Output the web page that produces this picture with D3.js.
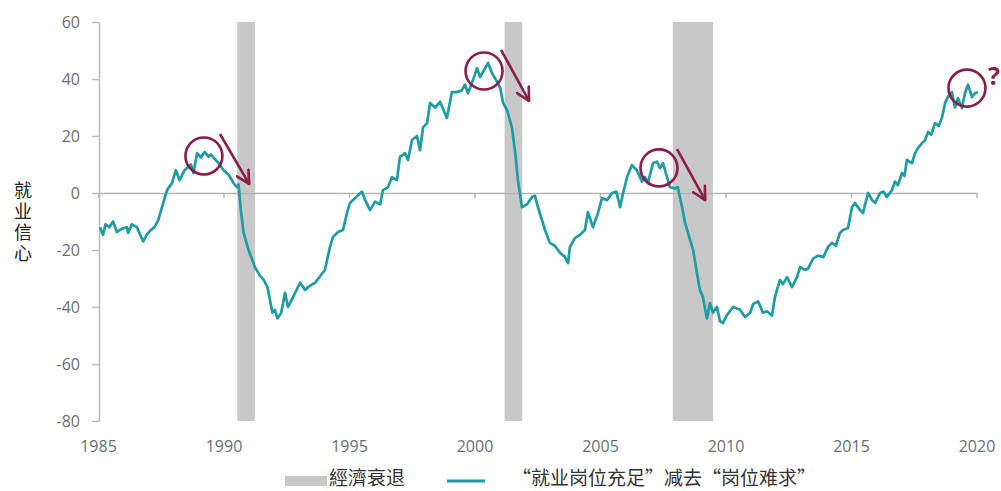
<!DOCTYPE html>
<html>
<head>
<meta charset="utf-8">
<script src="https://cdn.jsdelivr.net/npm/d3@7"></script>
<style>
  body { margin: 0; background: #fff; }
  svg { display: block; }
  .tick text { font-family: "Open Sans", sans-serif; fill: #6e6e6e; }
  .cjk { font-family: "Noto Sans CJK SC", sans-serif; }
</style>
</head>
<body>
<script>
// job confidence: "jobs plentiful" minus "jobs hard to get"
const series = [
  [1985.08, -12], [1985.2, -14.7], [1985.3, -11], [1985.45, -12], [1985.6, -10],
  [1985.75, -13.7], [1985.95, -12.5], [1986.15, -12], [1986.2, -14], [1986.35, -11],
  [1986.55, -12], [1986.7, -15], [1986.8, -17], [1986.95, -14.5], [1987.1, -13],
  [1987.25, -12], [1987.4, -9.5], [1987.6, -3.5], [1987.75, 1], [1987.95, 3.5],
  [1988.1, 8], [1988.25, 4.5], [1988.45, 8], [1988.7, 10], [1988.8, 7],
  [1988.95, 14], [1989.1, 12.5], [1989.25, 14.4], [1989.4, 12.8], [1989.5, 13.5],
  [1989.65, 12], [1989.8, 10.5], [1990.0, 8], [1990.2, 6.5], [1990.3, 5],
  [1990.4, 3.5], [1990.55, 2], [1990.6, 3], [1990.68, -5], [1990.8, -14],
  [1991.0, -20], [1991.25, -26], [1991.45, -29], [1991.6, -30.5], [1991.75, -33],
  [1991.95, -42], [1992.05, -41], [1992.15, -44], [1992.3, -42], [1992.45, -35],
  [1992.57, -40], [1992.77, -36.5], [1993.05, -31.5], [1993.25, -34], [1993.45, -32.5],
  [1993.65, -31.5], [1994.04, -27], [1994.24, -19], [1994.36, -15.5], [1994.56, -13.7],
  [1994.76, -13], [1994.92, -7], [1995.04, -3.5], [1995.24, -1.8], [1995.52, 0.5],
  [1995.64, -2.5], [1995.84, -6], [1996.04, -3], [1996.24, -4], [1996.35, 1],
  [1996.55, 2], [1996.71, 5.6], [1996.91, 4.5], [1997.03, 12.7], [1997.23, 14],
  [1997.35, 11.6], [1997.51, 18.6], [1997.71, 20], [1997.83, 15], [1997.95, 23],
  [1998.11, 24.5], [1998.23, 31.6], [1998.43, 30], [1998.63, 32], [1998.9, 26.3],
  [1999.1, 35.4], [1999.3, 35.4], [1999.5, 36], [1999.62, 38], [1999.74, 35],
  [1999.94, 39.6], [2000.1, 43.8], [2000.22, 40.7], [2000.34, 42.5], [2000.54, 45.6],
  [2000.7, 42], [2000.9, 39], [2001.02, 37], [2001.14, 31.6], [2001.3, 29],
  [2001.49, 23], [2001.61, 15], [2001.73, 4.5], [2001.89, -5], [2002.09, -4],
  [2002.29, -1.4], [2002.41, -1], [2002.53, -5], [2002.81, -13], [2003.0, -17.5],
  [2003.2, -18.5], [2003.41, -21], [2003.6, -22.4], [2003.73, -24.6], [2003.8, -19],
  [2004.0, -15.8], [2004.2, -14.7], [2004.4, -13], [2004.52, -6.7], [2004.72, -12],
  [2004.92, -7], [2005.08, -1.8], [2005.28, -2.5], [2005.48, 0], [2005.65, 0.5],
  [2005.8, -5], [2005.92, 0], [2006.08, 5.6], [2006.27, 9.8], [2006.47, 8],
  [2006.67, 4], [2006.79, 5.6], [2006.91, 3.5], [2007.11, 10.5], [2007.27, 11],
  [2007.39, 8.7], [2007.51, 10.5], [2007.67, 5.6], [2007.79, 2], [2007.99, 1.6],
  [2008.1, 2], [2008.27, -5], [2008.39, -10.5], [2008.59, -16.5], [2008.71, -20],
  [2008.86, -28], [2008.98, -34], [2009.1, -36.5], [2009.26, -44], [2009.38, -38.6],
  [2009.5, -42], [2009.66, -40], [2009.78, -45], [2009.9, -45.6], [2010.06, -42.8],
  [2010.3, -40], [2010.58, -41], [2010.78, -43.5], [2010.98, -42], [2011.1, -39],
  [2011.3, -38], [2011.49, -42], [2011.65, -41.5], [2011.85, -43], [2011.97, -36.5],
  [2012.17, -30.5], [2012.29, -32], [2012.45, -29.5], [2012.65, -33], [2012.85, -29.5],
  [2012.97, -26], [2013.17, -27], [2013.29, -26.5], [2013.49, -23], [2013.69, -22],
  [2013.9, -22.5], [2014.08, -19], [2014.24, -17.5], [2014.4, -18.5], [2014.56, -14],
  [2014.68, -13], [2014.88, -12.3], [2015.04, -5], [2015.16, -3.5], [2015.36, -6],
  [2015.48, -7], [2015.68, 0], [2015.84, -2.5], [2015.96, -3.5], [2016.16, 0],
  [2016.3, 0.5], [2016.43, -1.4], [2016.63, 1], [2016.75, 4], [2016.87, 2.8],
  [2017.03, 7], [2017.13, 6], [2017.23, 11.6], [2017.43, 10.5], [2017.55, 14],
  [2017.67, 15.8], [2017.83, 17.5], [2017.95, 18.5], [2018.07, 21.4], [2018.2, 20.5],
  [2018.35, 24.5], [2018.5, 23.5], [2018.63, 26.7], [2018.75, 31.6], [2018.86, 33.7],
  [2019.02, 35.4], [2019.14, 30], [2019.26, 33.3], [2019.42, 29.8], [2019.54, 35],
  [2019.66, 38], [2019.82, 33.7], [2019.94, 35], [2020.06, 35.4]
];

const recessions = [[1990.55, 1991.25], [2001.2, 2001.9], [2007.9, 2009.5]];
const xTicks = [1985, 1990, 1995, 2000, 2005, 2010, 2015, 2020];
const yTicks = [60, 40, 20, 0, -20, -40, -60, -80];

// annotations, in data units
const peakCircles = [[1989.22, 13], [2000.38, 42.8], [2007.35, 8.8], [2019.62, 36.8]];
const dropArrows = [
  [[1989.86, 20.7], [1991.02, 3.2]],
  [[2001.06, 50.2], [2002.17, 32.3]],
  [[2008.07, 15.4], [2009.19, -2.5]]
];
const questionMark = [2020.7, 37.9];

const yLabel = "就业信心";
const legendItems = ["經濟衰退", "“就业岗位充足”减去“岗位难求”"];

const width = 1001;
const height = 491;
const accent = "#8c1d4b";
const teal = "#1d9ca3";

const x = d3.scaleLinear().domain([1985, 2020]).range([98, 976.5]);
const y = d3.scaleLinear().domain([-80, 60]).range([421, 22]);

const svg = d3.select("body")
  .append("svg")
  .attr("width", width)
  .attr("height", height);

svg.append("defs")
  .append("marker")
  .attr("id", "head")
  .attr("viewBox", "0 0 12 12")
  .attr("refX", 10.5)
  .attr("refY", 6)
  .attr("markerUnits", "userSpaceOnUse")
  .attr("markerWidth", 16)
  .attr("markerHeight", 16)
  .attr("orient", "auto")
  .append("path")
  .attr("d", "M1,1 L10.5,6 L1,11")
  .attr("fill", "none")
  .attr("stroke", accent)
  .attr("stroke-width", 2)
  .attr("stroke-linecap", "round")
  .attr("stroke-linejoin", "round");

// recession bands
svg.append("g")
  .selectAll("rect")
  .data(recessions)
  .join("rect")
  .attr("x", d => x(d[0]))
  .attr("width", d => x(d[1]) - x(d[0]))
  .attr("y", y(60))
  .attr("height", y(-80) - y(60))
  .attr("fill", "#c8c8c8");

// y axis (plain hyphen minus like the original)
const yAxis = svg.append("g")
  .attr("transform", `translate(${x(1985) + 1},0)`)
  .call(d3.axisLeft(y).tickValues(yTicks).tickFormat(d => String(d))
    .tickSize(7).tickPadding(12).tickSizeOuter(0));
yAxis.select(".domain").attr("stroke", "#bdbdbd").attr("stroke-width", 1.5);
yAxis.selectAll(".tick line").attr("stroke", "#bdbdbd").attr("stroke-width", 1.5);
yAxis.selectAll(".tick text").style("font-size", "16px");

// zero line with year ticks
const zeroAxis = svg.append("g")
  .attr("transform", `translate(0,${y(0)})`)
  .call(d3.axisBottom(x).tickValues(xTicks).tickFormat("").tickSize(5).tickSizeOuter(0));
zeroAxis.select(".domain").attr("stroke", "#b5b5b5").attr("stroke-width", 1.5);
zeroAxis.selectAll(".tick line").attr("stroke", "#b5b5b5").attr("stroke-width", 1.5);

// year labels
const xAxis = svg.append("g")
  .attr("transform", `translate(0,${y(-80)})`)
  .call(d3.axisBottom(x).tickValues(xTicks).tickFormat(d3.format("d")).tickSize(0).tickPadding(20));
xAxis.select(".domain").remove();
xAxis.selectAll(".tick text").style("font-size", "16px");

// series line
svg.append("path")
  .datum(series)
  .attr("fill", "none")
  .attr("stroke", teal)
  .attr("stroke-width", 2.7)
  .attr("stroke-linejoin", "round")
  .attr("d", d3.line().x(d => x(d[0])).y(d => y(d[1])));

// annotations
svg.append("g")
  .selectAll("circle")
  .data(peakCircles)
  .join("circle")
  .attr("cx", d => x(d[0]))
  .attr("cy", d => y(d[1]))
  .attr("r", 18.5)
  .attr("fill", "none")
  .attr("stroke", accent)
  .attr("stroke-width", 2.6);

svg.append("g")
  .selectAll("line")
  .data(dropArrows)
  .join("line")
  .attr("x1", d => x(d[0][0]))
  .attr("y1", d => y(d[0][1]))
  .attr("x2", d => x(d[1][0]))
  .attr("y2", d => y(d[1][1]))
  .attr("stroke", accent)
  .attr("stroke-width", 2.6)
  .attr("marker-end", "url(#head)");

svg.append("text")
  .attr("x", x(questionMark[0]))
  .attr("y", y(questionMark[1]))
  .attr("text-anchor", "middle")
  .attr("font-family", "Open Sans, sans-serif")
  .attr("font-weight", "bold")
  .attr("font-size", 25)
  .attr("fill", accent)
  .text("?");

// vertical y label
svg.append("text")
  .attr("class", "cjk")
  .attr("x", 23)
  .attr("y", 181)
  .attr("font-size", 18)
  .attr("fill", "#222")
  .style("writing-mode", "vertical-rl")
  .style("text-orientation", "upright")
  .style("letter-spacing", "3px")
  .text(yLabel);

// legend
const legend = svg.append("g");
legend.append("rect")
  .attr("x", 285).attr("y", 476).attr("width", 42).attr("height", 10)
  .attr("fill", "#c8c8c8");
legend.append("text")
  .attr("class", "cjk")
  .attr("x", 329).attr("y", 485)
  .attr("font-size", 19)
  .attr("fill", "#333")
  .text(legendItems[0]);
legend.append("line")
  .attr("x1", 447).attr("x2", 485).attr("y1", 481).attr("y2", 481)
  .attr("stroke", teal).attr("stroke-width", 3);
legend.append("text")
  .attr("class", "cjk")
  .attr("x", 512).attr("y", 485)
  .attr("font-size", 19)
  .attr("fill", "#333")
  .text(legendItems[1]);
</script>
</body>
</html>
